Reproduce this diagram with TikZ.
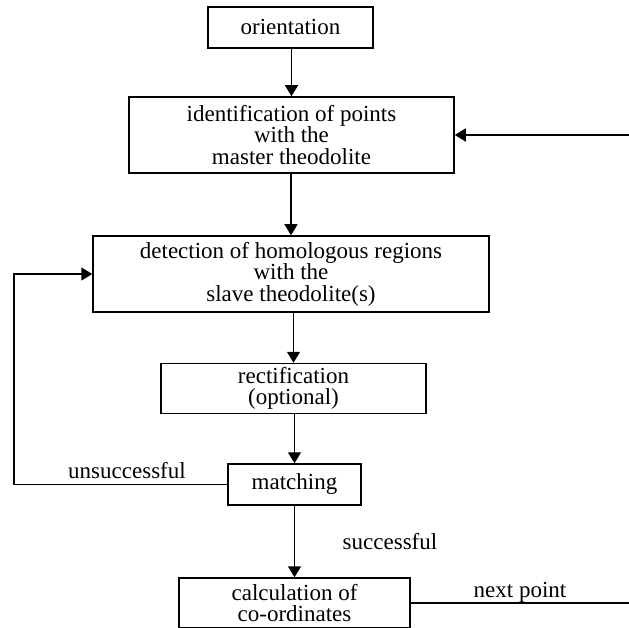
\documentclass[tikz,border=0pt]{standalone}
\usepackage{fontspec}
\setmainfont{Liberation Serif}
\usetikzlibrary{arrows.meta}
\begin{document}
\begin{tikzpicture}[x=1pt,y=-1pt,
  txt/.style={font=\fontsize{23}{21.5}\selectfont},
  box/.style={txt,draw,line width=1.5pt,rectangle,inner sep=0pt,align=center},
  lbl/.style={txt,inner sep=0pt},
  conn/.style={line width=1.5pt},
  arr/.style={conn,-{Triangle[length=11pt,width=13pt]}}]
\useasboundingbox (0,0) rectangle (629,628);
\node[box,minimum width=165pt,minimum height=41pt] (orient) at (290.5,27.5) {orientation};
\node[box,minimum width=325pt,minimum height=76pt] (ident) at (291.5,135) {identification of points\\with the\\master theodolite};
\node[box,minimum width=396pt,minimum height=76pt] (detect) at (291,274) {detection of homologous regions\\with the\\slave theodolite(s)};
\node[box,minimum width=265pt,minimum height=50pt] (rect) at (293.5,388.5) {rectification\\(optional)};
\node[box,minimum width=133pt,minimum height=41pt] (match) at (294.5,484.5) {matching};
\node[box,minimum width=231pt,minimum height=50pt] (calc) at (294.5,603) {calculation of\\co-ordinates};
\coordinate (lc) at (14,0);
\coordinate (rc) at (629,0);
\draw[arr] (orient.south -| ident.north) -- (ident.north);
\draw[arr] (ident.south -| detect.north) -- (detect.north);
\draw[arr] (detect.south -| rect.north) -- (rect.north);
\draw[arr] (rect.south -| match.north) -- (match.north);
\draw[arr] (match.south) -- (calc.north);
\draw[arr] (match.west) -- (match.west -| lc) -- (detect.west -| lc) -- (detect.west);
\draw[conn] (calc.east) -- (calc.east -| rc);
\draw[arr] (ident.east -| rc) -- (ident.east);
\node[lbl] (unsucc) at (127,471) {unsuccessful};
\node[lbl] (succ) at (390,542) {successful};
\node[lbl] (next) at (520,592) {next point};
\end{tikzpicture}
\end{document}
